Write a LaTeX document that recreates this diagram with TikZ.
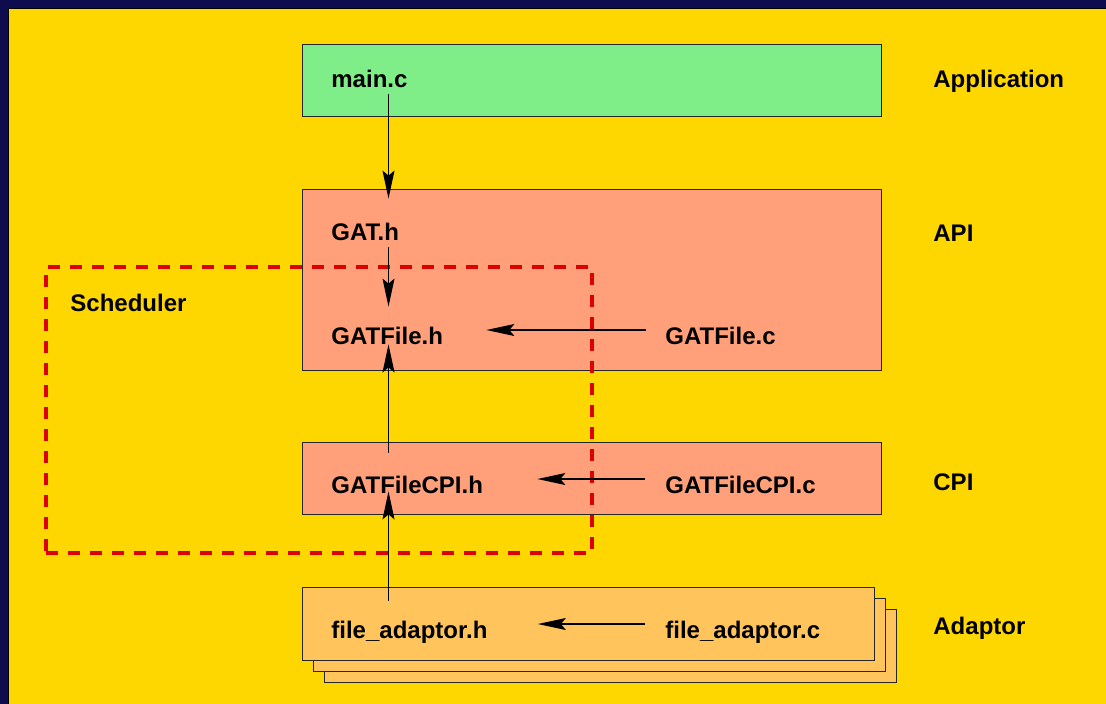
\documentclass[tikz,border=0pt]{standalone}
\usepackage{fontspec}
\setmainfont{Liberation Sans}
\usetikzlibrary{arrows.meta, positioning}
\definecolor{framenavy}{HTML}{0E0B4F}
\definecolor{bggold}{HTML}{FFD700}
\definecolor{appgreen}{HTML}{80EE88}
\definecolor{apisalmon}{HTML}{FFA07A}
\definecolor{adaptororange}{HTML}{FFC55C}
\definecolor{schedred}{HTML}{DD0000}

\tikzset{
  layerbox/.style={draw=black!85, line width=0.6pt, anchor=north west, inner sep=0pt, minimum width=289.5pt},
  file/.style={anchor=base west, inner sep=0pt, text height=9pt, text depth=3pt, font=\fontsize{12}{14}\selectfont\bfseries},
  dep/.style={-{Stealth[length=14pt, width=6pt, inset=2.5pt]}, line width=0.6pt},
}

\begin{document}
\begin{tikzpicture}[x=0.5pt, y=-0.5pt]
        \useasboundingbox (0,0) rectangle (1106,703);
        \fill[bggold] (-4,-4) rectangle (1112,712);
        \fill[framenavy] (-4,-4) rectangle (1112,8);
        \fill[framenavy] (-4,-4) rectangle (8,712);
        \draw[black, line width=0.4pt] (8,712) -- (8,8) -- (1112,8);

        % layers
        \node[layerbox, fill=appgreen, minimum height=36pt] (appbox) at (302,44) {};
        \node[layerbox, fill=apisalmon, minimum height=90.5pt] (apibox) at (302,189) {};
        \node[layerbox, fill=apisalmon, minimum height=36pt] (cpibox) at (302,442) {};
        \foreach \d in {22,11,0}
            \node[layerbox, fill=adaptororange, minimum width=286pt, minimum height=36.5pt] (adbox\d) at (302+\d,587+\d) {};

        % scheduler
        \node[draw=schedred, line width=1.8pt, dash pattern=on 6pt off 5pt, anchor=north west,
              inner sep=0pt, minimum width=273pt, minimum height=143pt] (sched) at (44,265) {};
        \node[file] (schedlabel) at (70,311) {Scheduler};

        % files
        \node[file] (mainc) at (331,87) {main.c};
        \node[file] (gath) at (331,240) {GAT.h};
        \node[file] (gatfileh) at (331,344) {GATFile.h};
        \node[file] (gatfilec) at (665,344) {GATFile.c};
        \node[file] (cpih) at (331,493) {GATFileCPI.h};
        \node[file] (cpic) at (665,493) {GATFileCPI.c};
        \node[file] (adh) at (331,638) {file\_adaptor.h};
        \node[file] (adc) at (665,638) {file\_adaptor.c};

        % layer names
        \node[file] (appname) at (933,87) {Application};
        \node[file] (apiname) at (933,241) {API};
        \node[file] (cpiname) at (933,490) {CPI};
        \node[file] (adname) at (933,634) {Adaptor};

        % dependencies
        \coordinate (spine) at (388.5,0);
        \draw[dep, shorten <=0.5pt, shorten >=11.5pt] (spine |- mainc.south) -- (spine |- gath.north);
        \draw[dep, shorten <=0.5pt, shorten >=9.5pt] (spine |- gath.south) -- (spine |- gatfileh.north);
        \draw[dep, shorten <=11pt, shorten >=-3pt] (spine |- cpih.north) -- (spine |- gatfileh.south);
        \draw[dep, shorten <=9.5pt, shorten >=-4pt] (spine |- adh.north) -- (spine |- cpih.south);
        \draw[dep, shorten <=9.5pt, shorten >=21.5pt] ([yshift=4pt]gatfilec.west) -- ([yshift=4pt]gatfileh.east);
        \draw[dep, shorten <=10pt, shorten >=27pt] ([yshift=4pt]cpic.west) -- ([yshift=4pt]cpih.east);
        \draw[dep, shorten <=10pt, shorten >=25pt] ([yshift=4pt]adc.west) -- ([yshift=4pt]adh.east);
\end{tikzpicture}
\end{document}
